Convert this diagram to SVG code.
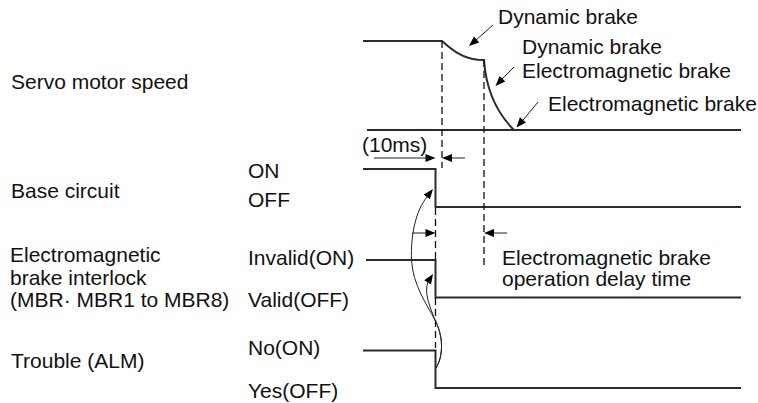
<svg xmlns="http://www.w3.org/2000/svg" width="758" height="403" viewBox="0 0 758 403">
<style>
text{font-family:"Liberation Sans",Arial,sans-serif;font-size:21px;fill:#111}
.sig{fill:none;stroke:#2b2b2b;stroke-width:2}
.dash{fill:none;stroke:#111;stroke-width:1.3;stroke-dasharray:7,4}
.thin{fill:none;stroke:#222;stroke-width:1}
.head{fill:#000;stroke:none}
</style>
<rect width="758" height="403" fill="#fff"/>
<g id="labels">
<text x="11" y="89">Servo motor speed</text>
<text x="11" y="198">Base circuit</text>
<text x="10" y="262">Electromagnetic</text>
<text x="10" y="284.5">brake interlock</text>
<text x="10" y="307">(MBR· MBR1 to MBR8)</text>
<text x="11" y="368">Trouble (ALM)</text>
<text x="248" y="178">ON</text>
<text x="248" y="207">OFF</text>
<text x="248" y="265">Invalid(ON)</text>
<text x="248" y="307">Valid(OFF)</text>
<text x="248" y="355">No(ON)</text>
<text x="248" y="398">Yes(OFF)</text>
</g>
<g id="speed">
<path class="sig" d="M363,41 H442 C452,50 462,58 478,59.7 L484,60 C486,90 496,112 514,130"/>
<path class="sig" d="M367,130 H741"/>
<text x="498" y="24">Dynamic brake</text>
<text x="522" y="54">Dynamic brake</text>
<text x="522" y="78">Electromagnetic brake</text>
<text x="548" y="111">Electromagnetic brake</text>
</g>
<g id="base-circuit">
<path class="sig" d="M363,169 H435.5 V207 H741"/>
</g>
<g id="brake-interlock">
<path class="sig" d="M366,260 H435.5 V297.5 H741"/>
</g>
<g id="trouble">
<path class="sig" d="M363,350.5 H435.5 V388 H741"/>
</g>
<g id="delay-label">
<text x="502" y="264.5">Electromagnetic brake</text>
<text x="502" y="286">operation delay time</text>
</g>
<g id="connectors">
<path class="dash" d="M442,41 V168"/>
<path class="dash" d="M435.5,208 V260 M435.5,298 V348"/>
<path class="dash" d="M484,60 V269"/>
<path class="thin" d="M493,25 L476,40"/>
<polygon class="head" points="469,46 473.9,36.4 479.2,42.4"/>
<path class="thin" d="M514,67 L502,79"/>
<polygon class="head" points="495.5,86 499.6,76.05 505.3,81.6"/>
<path class="thin" d="M538,102 L523,120"/>
<polygon class="head" points="516.5,127.5 519.9,117.3 526,122.4"/>
<text x="362" y="152">(10ms)</text>
<path class="thin" d="M374,158 H426"/>
<polygon class="head" points="435.5,158 425.5,154 425.5,162"/>
<path class="thin" d="M465,158 H451"/>
<polygon class="head" points="442,158 452,154 452,162"/>
<path class="thin" d="M412,233 H426"/>
<polygon class="head" points="435.5,233 425.5,229 425.5,237"/>
<path class="thin" d="M507,233 H493"/>
<polygon class="head" points="484,233 494,229 494,237"/>
<path class="thin" d="M436,368 C444,355 443,335 435,320 C426,303 413,285 411.5,260 C410.5,235 416,210 427,197"/>
<polygon class="head" points="433,189 429.9,199.3 423.7,194.4"/>
<path class="thin" d="M436,368 C444,355 443,335 435,320 C429,305 424,292 428,282"/>
<polygon class="head" points="433,274 431,284.6 424.2,280.3"/>
</g>
</svg>
